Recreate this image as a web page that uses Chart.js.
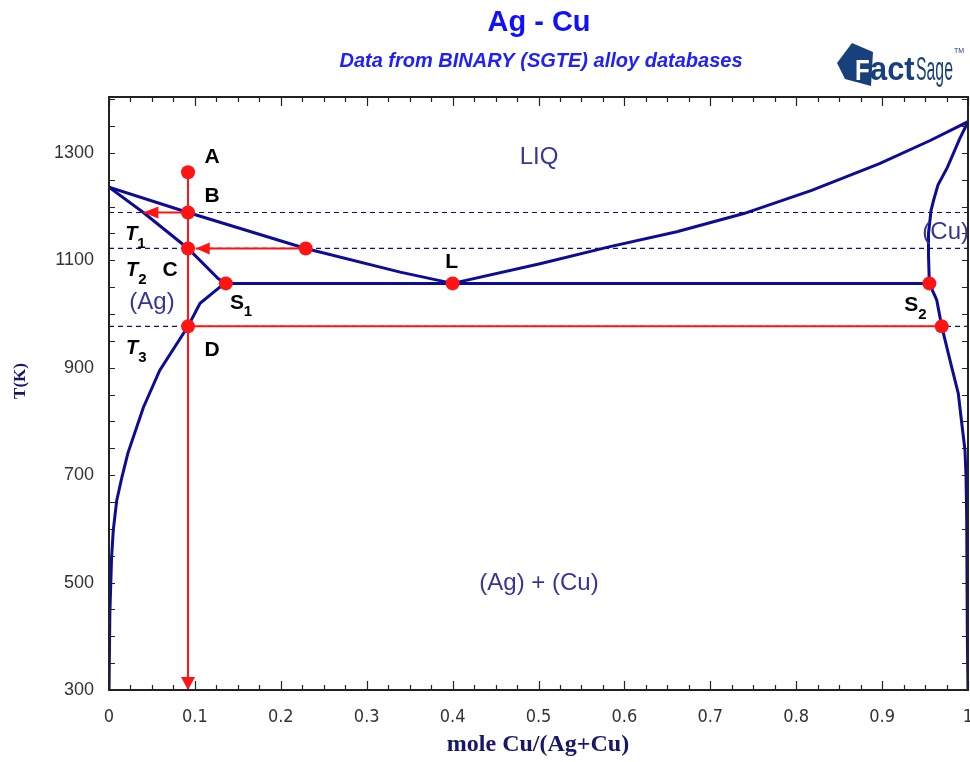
<!DOCTYPE html>
<html>
<head>
<meta charset="utf-8">
<script src="https://cdn.jsdelivr.net/npm/chart.js@4/dist/chart.umd.min.js"></script>
<style>
  html, body { margin: 0; padding: 0; background: #fff; }
  #wrap { width: 970px; height: 762px; }
</style>
</head>
<body>
<div id="wrap"><canvas id="c" width="970" height="762"></canvas></div>
<script>
// tick labels
const X_TICKS = [0, 0.1, 0.2, 0.3, 0.4, 0.5, 0.6, 0.7, 0.8, 0.9, 1];
const Y_TICKS = [300, 500, 700, 900, 1100, 1300];

// phase boundaries (x = mole Cu, T in K)
const LIQ_AG_X = [0, 0.092, 0.229, 0.339, 0.40];
const LIQ_AG_T = [1236, 1189, 1122, 1078, 1057];
const LIQ_CU_X = [0.40, 0.503, 0.582, 0.661, 0.739, 0.818, 0.897, 0.956, 1.0];
const LIQ_CU_T = [1057, 1094, 1125, 1153, 1187, 1230, 1280, 1323, 1358];
const SOL_AG_X = [0, 0.040, 0.092, 0.127, 0.136];
const SOL_AG_T = [1236, 1189, 1122, 1066, 1057];
const SOLV_AG_X = [0.136, 0.129, 0.106, 0.092, 0.059, 0.040, 0.022, 0.015, 0.009, 0.005, 0.003, 0.001, 0];
const SOLV_AG_T = [1057, 1050, 1020, 977, 895, 826, 741, 696, 653, 598, 547, 443, 300];
const SOL_CU_X = [1.0, 0.990, 0.976, 0.965, 0.960, 0.957, 0.954, 0.954, 0.955];
const SOL_CU_T = [1358, 1325, 1273, 1240, 1212, 1193, 1150, 1110, 1057];
const SOLV_CU_X = [0.955, 0.9636, 0.9694, 0.981, 0.9887, 0.9927, 0.9965, 0.9977, 0.9985, 0.9992, 1.0];
const SOLV_CU_T = [1057, 1026, 977, 901, 852, 797, 746, 697, 616, 406, 300];
const EUTECTIC_X = [0.136, 0.955];
const EUTECTIC_T = [1057, 1057];

// dashed isotherms T1, T2, T3
const ISO_T = [1189, 1122, 977];

// red construction: cooling path, lever arrows, tie line
const PATH_X = [0.092, 0.092];
const PATH_T = [1264, 300];
const ARROW1_X = [0.092, 0.040];
const ARROW1_T = [1189, 1189];
const ARROW2_X = [0.229, 0.101];
const ARROW2_T = [1122, 1122];
const TIE_X = [0.092, 0.9694];
const TIE_T = [977, 977];

// red dots: A, B, C, D, liquidus at T2, L, S1, S2, solvus at T3
const DOT_X = [0.092, 0.092, 0.092, 0.092, 0.229, 0.40, 0.136, 0.955, 0.9694];
const DOT_T = [1264, 1189, 1122, 977, 1122, 1057, 1057, 1057, 977];

const NAVY = '#0c0c96';
const RED = '#ff1414';
const LABEL_BLUE = '#36369a';
const LOGO = '#17407c';

const pts = (xs, ts) => xs.map((x, i) => ({ x, y: ts[i] }));

function boundary(xs, ts) {
  return { data: pts(xs, ts), showLine: true, borderColor: NAVY, borderWidth: 3, pointRadius: 0, tension: 0, order: 3 };
}
function redLine(xs, ts, arrow) {
  return { data: pts(xs, ts), showLine: true, borderColor: RED, borderWidth: 2, pointRadius: 0, order: 2, arrow };
}

const datasets = [
  { data: pts(DOT_X, DOT_T), showLine: false, pointRadius: 7, pointHoverRadius: 7, backgroundColor: RED, borderWidth: 0, order: 0 },
  redLine(PATH_X, PATH_T, { len: 13, half: 7 }),
  redLine(ARROW1_X, ARROW1_T, { len: 15, half: 6 }),
  redLine(ARROW2_X, ARROW2_T, { len: 14, half: 6 }),
  redLine(TIE_X, TIE_T, null),
  boundary(LIQ_AG_X, LIQ_AG_T),
  boundary(LIQ_CU_X, LIQ_CU_T),
  boundary(SOL_AG_X, SOL_AG_T),
  boundary(SOLV_AG_X, SOLV_AG_T),
  boundary(SOL_CU_X, SOL_CU_T),
  boundary(SOLV_CU_X, SOLV_CU_T),
  boundary(EUTECTIC_X, EUTECTIC_T),
  ...ISO_T.map(t => ({ data: [{ x: 0, y: t }, { x: 1, y: t }], showLine: true, borderColor: NAVY, borderWidth: 1.2, borderDash: [5, 4], pointRadius: 0, order: 4 })),
];

function arrowHead(ctx, x1, y1, x2, y2, len, half) {
  const a = Math.atan2(y2 - y1, x2 - x1);
  ctx.save();
  ctx.translate(x2, y2);
  ctx.rotate(a);
  ctx.beginPath();
  ctx.moveTo(0, 0);
  ctx.lineTo(-len, -half);
  ctx.lineTo(-len, half);
  ctx.closePath();
  ctx.fillStyle = RED;
  ctx.fill();
  ctx.restore();
}

// text put on the diagram, positioned in data units
const BOLD = 'bold 21px "Liberation Sans", Arial';
const ITAL = 'italic bold 20px "Liberation Sans", Arial';
const PLAIN = '24px "Liberation Sans", Arial';
const TEXTS = [
  { t: 'A', x: 0.120, y: 1292, font: BOLD, c: '#000' },
  { t: 'B', x: 0.120, y: 1219, font: BOLD, c: '#000' },
  { t: 'C', x: 0.071, y: 1081, font: BOLD, c: '#000' },
  { t: 'D', x: 0.120, y: 933, font: BOLD, c: '#000' },
  { t: 'L', x: 0.399, y: 1096, font: BOLD, c: '#000' },
  { t: 'S', sub: '1', x: 0.149, y: 1020, font: BOLD, c: '#000' },
  { t: 'S', sub: '2', x: 0.934, y: 1016, font: BOLD, c: '#000' },
  { t: 'T', sub: '1', x: 0.026, y: 1148, font: ITAL, c: '#000' },
  { t: 'T', sub: '2', x: 0.027, y: 1081, font: ITAL, c: '#000' },
  { t: 'T', sub: '3', x: 0.027, y: 936, font: ITAL, c: '#000' },
  { t: 'LIQ', x: 0.5006, y: 1292, font: PLAIN, c: LABEL_BLUE },
  { t: '(Ag)', x: 0.050, y: 1022, font: PLAIN, c: LABEL_BLUE },
  { t: '(Cu)', x: 0.974, y: 1152, font: PLAIN, c: LABEL_BLUE },
  { t: '(Ag) + (Cu)', x: 0.5006, y: 499, font: PLAIN, c: LABEL_BLUE },
];

const overlay = {
  id: 'overlay',
  beforeDraw(chart) {
    const ctx = chart.ctx;
    ctx.save();
    ctx.fillStyle = '#fff';
    ctx.fillRect(0, 0, chart.width, chart.height);
    ctx.restore();
  },
  afterDatasetsDraw(chart) {
    const ctx = chart.ctx;
    chart.data.datasets.forEach((ds, i) => {
      if (!ds.arrow) return;
      const d = chart.getDatasetMeta(i).data;
      const p = d[d.length - 2], q = d[d.length - 1];
      arrowHead(ctx, p.x, p.y, q.x, q.y, ds.arrow.len, ds.arrow.half);
    });
  },
  afterDraw(chart) {
    const ctx = chart.ctx;
    const { left, right, top, bottom } = chart.chartArea;
    const xs = chart.scales.x, ys = chart.scales.y;

    // tick marks, inside the frame
    ctx.save();
    ctx.strokeStyle = '#222';
    ctx.lineWidth = 1.2;
    ctx.beginPath();
    for (let i = 0; i <= 40; i++) {
      const px = Math.round(xs.getPixelForValue(i / 40)) + 0.5;
      const len = i % 4 === 0 ? 9 : 5;
      ctx.moveTo(px, bottom); ctx.lineTo(px, bottom - len);
      ctx.moveTo(px, top); ctx.lineTo(px, top + len);
    }
    for (let v = 300; v <= 1400; v += 50) {
      const py = Math.round(ys.getPixelForValue(v)) + 0.5;
      ctx.moveTo(left, py); ctx.lineTo(left + 6, py);
      ctx.moveTo(right, py); ctx.lineTo(right - 6, py);
    }
    ctx.stroke();
    ctx.lineWidth = 2;
    ctx.strokeRect(left, top, right - left, bottom - top);
    ctx.restore();

    // annotations
    ctx.save();
    ctx.beginPath();
    ctx.rect(left, top, right - left, bottom - top);
    ctx.clip();
    ctx.textAlign = 'center';
    ctx.textBaseline = 'middle';
    TEXTS.forEach(o => {
      const px = xs.getPixelForValue(o.x), py = ys.getPixelForValue(o.y);
      ctx.font = o.font;
      ctx.fillStyle = o.c;
      ctx.fillText(o.t, px, py);
      if (o.sub) {
        const w = ctx.measureText(o.t).width;
        ctx.font = 'bold 15px "Liberation Sans", Arial';
        ctx.fillText(o.sub, px + w / 2 + 4, py + 9);
      }
    });
    ctx.restore();

    // titles
    ctx.save();
    ctx.textAlign = 'center';
    ctx.textBaseline = 'middle';
    ctx.fillStyle = '#1010ff';
    ctx.font = 'bold 29px "Liberation Sans", Arial';
    ctx.fillText('Ag - Cu', 539, 23);
    ctx.fillStyle = '#2020ff';
    ctx.font = 'italic bold 20px "Liberation Sans", Arial';
    ctx.fillText('Data from BINARY (SGTE) alloy databases', 541, 61);

    // axis titles
    ctx.fillStyle = '#16166a';
    ctx.font = 'bold 24px "Liberation Serif", "Times New Roman", serif';
    ctx.fillText('mole Cu/(Ag+Cu)', 538, 745);
    ctx.translate(21, 381);
    ctx.rotate(-Math.PI / 2);
    ctx.font = 'bold 17px "Liberation Serif", "Times New Roman", serif';
    ctx.fillText('T(K)', 0, 0);
    ctx.restore();

    // FactSage logo
    ctx.save();
    ctx.fillStyle = LOGO;
    ctx.beginPath();
    ctx.moveTo(837, 63);
    ctx.lineTo(852, 43);
    ctx.lineTo(873, 52);
    ctx.lineTo(871, 86);
    ctx.lineTo(845, 79);
    ctx.closePath();
    ctx.fill();
    ctx.textBaseline = 'alphabetic';
    ctx.textAlign = 'left';
    ctx.save();
    ctx.translate(855, 80);
    ctx.scale(0.8, 1);
    ctx.fillStyle = '#fff';
    ctx.font = 'bold 30px "Liberation Sans", Arial';
    ctx.fillText('F', 0, 0);
    ctx.restore();
    ctx.fillStyle = LOGO;
    ctx.save();
    ctx.translate(870, 80);
    ctx.scale(1.4, 1.5);
    ctx.font = 'bold 22px "Liberation Sans", Arial';
    ctx.fillText('act', 0, 0);
    ctx.restore();
    ctx.save();
    ctx.translate(916, 80);
    ctx.scale(0.72, 1.55);
    ctx.font = '22px "Liberation Sans", Arial';
    ctx.fillText('Sage', 0, 0);
    ctx.restore();
    ctx.font = '7px "Liberation Sans", Arial';
    ctx.fillText('TM', 954, 53);
    ctx.restore();
  }
};

new Chart(document.getElementById('c'), {
  type: 'scatter',
  data: { datasets },
  options: {
    responsive: false,
    animation: false,
    events: [],
    layout: { autoPadding: false, padding: { top: 97, left: 0, right: 2, bottom: 0 } },
    plugins: { legend: { display: false }, tooltip: { enabled: false } },
    scales: {
      x: {
        type: 'linear', min: 0, max: 1,
        afterBuildTicks: s => { s.ticks = X_TICKS.map(v => ({ value: v })); },
        afterFit: s => { s.height = 72; s.paddingLeft = 0; s.paddingRight = 0; },
        grid: { display: false, drawTicks: false },
        border: { display: false },
        ticks: {
          padding: 17, maxRotation: 0, autoSkip: false, color: '#333',
          callback: v => String(v),
          font: { family: '"Liberation Sans Narrow", "DejaVu Sans Condensed", Arial', size: 18 }
        }
      },
      y: {
        type: 'linear', min: 300, max: 1404,
        afterBuildTicks: s => { s.ticks = Y_TICKS.map(v => ({ value: v })); },
        afterFit: s => { s.width = 109; s.paddingTop = 0; s.paddingBottom = 0; },
        grid: { display: false, drawTicks: false },
        border: { display: false },
        ticks: {
          padding: 15, autoSkip: false, color: '#333',
          callback: v => String(v),
          font: { family: '"Liberation Sans", Arial', size: 18 }
        }
      }
    }
  },
  plugins: [overlay]
});
</script>
</body>
</html>
